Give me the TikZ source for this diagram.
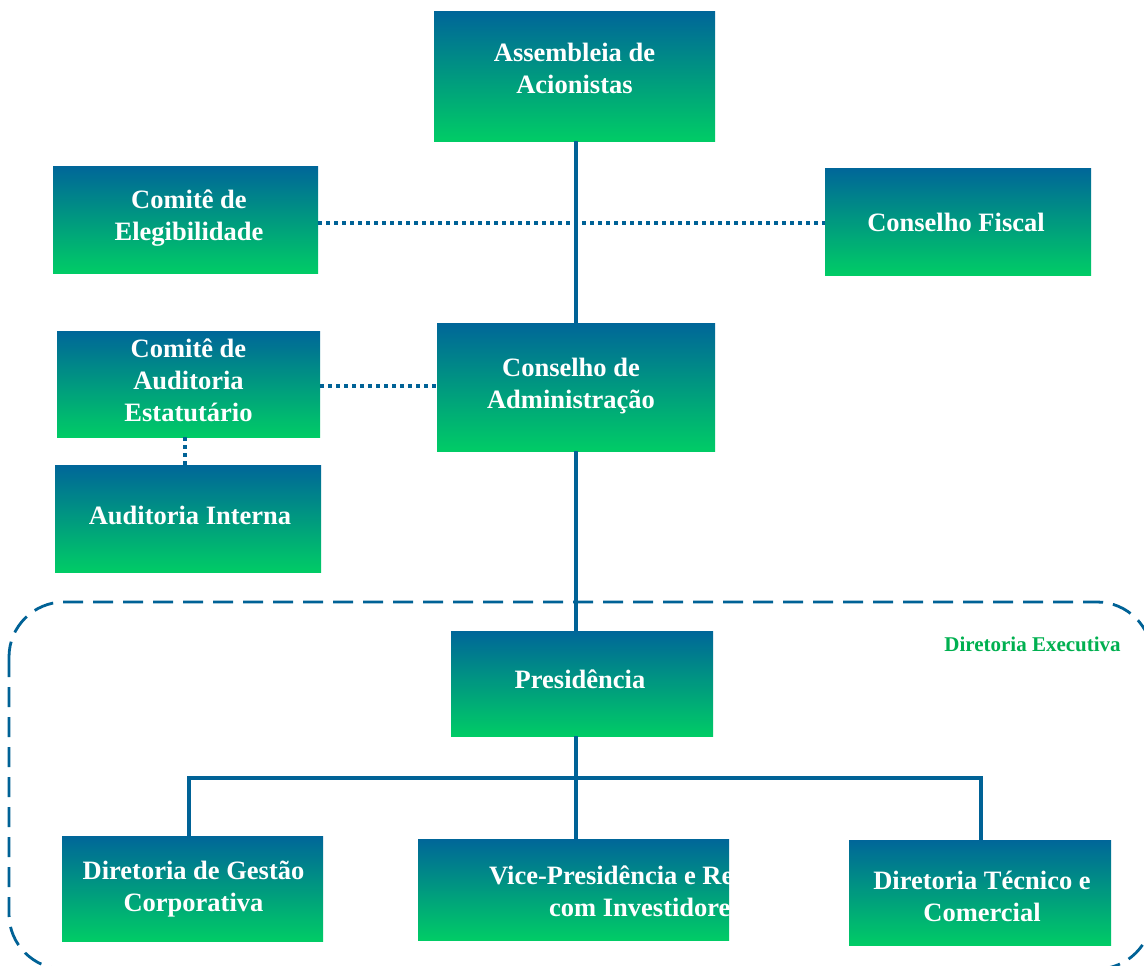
\documentclass[tikz,border=0pt]{standalone}
\usepackage{fontspec}
\setmainfont{Liberation Serif}
\definecolor{topc}{RGB}{0,102,153}
\definecolor{botc}{RGB}{0,204,102}
\definecolor{linec}{RGB}{0,98,150}
\definecolor{labelc}{RGB}{0,176,80}
\begin{document}
\begin{tikzpicture}[x=1pt,y=-1pt,
  box/.style={draw=none, top color=topc, bottom color=botc, inner sep=0pt},
  boxtext/.style={text=white, align=center, inner sep=0pt,
    font=\fontsize{26.5}{32}\selectfont\bfseries},
  solidline/.style={draw=linec, line width=3.5pt},
  dotline/.style={draw=linec, line width=4pt, dash pattern=on 4pt off 4pt},
  frame/.style={draw=linec, line width=2.8pt, dash pattern=on 20pt off 10pt, rounded corners=55pt}
]
\clip (0,0) rectangle (1144,966);
\fill[white] (0,0) rectangle (1144,966);

% dashed frame of the executive board
\draw[frame] (9,602) rectangle (1152,969);
\node[text=labelc, font=\fontsize{21}{24}\selectfont\bfseries, inner sep=0pt] (delabel) at (1032.5,644) {Diretoria Executiva};

% boxes
\node[box, minimum width=281pt, minimum height=129pt] (ass) at (574.5,76.5) {};
\node[box, minimum width=265pt, minimum height=107pt] (ce) at (185.5,219.5) {};
\node[box, minimum width=266pt, minimum height=107pt] (cf) at (958,221.5) {};
\node[box, minimum width=263pt, minimum height=106pt] (cae) at (188.5,384) {};
\node[box, minimum width=278pt, minimum height=128pt] (ca) at (576,387) {};
\node[box, minimum width=266pt, minimum height=107pt] (ai) at (188,518.5) {};
\node[box, minimum width=262pt, minimum height=105pt] (pres) at (582,683.5) {};
\node[box, minimum width=261pt, minimum height=105pt] (gc) at (192.5,888.5) {};
\node[box, minimum width=311pt, minimum height=101pt] (vp) at (573.5,889.5) {};
\node[box, minimum width=262pt, minimum height=105pt] (dt) at (980,892.5) {};

% connectors
\coordinate (bus) at (575,778);
\draw[solidline] (ass.south -| ca.south) -- (ca.north);
\draw[solidline] (ca.south) -- (ca.south |- pres.north);
\draw[solidline] (pres.south -| ca.south) -- (vp.north -| ca.south);
\draw[solidline] (gc.north -| 189,0) |- (bus) -| (dt.north -| 981,0);
\draw[dotline] (ce.east |- 0,222.5) -- (cf.west |- 0,222.5);
\draw[dotline] (cae.east |- 0,386) -- (ca.west |- 0,386);
\draw[dotline] (cae.south -| 185,0) -- (ai.north -| 185,0);

% texts
\node[boxtext] (ass-t) at (574.5,68.5) {Assembleia de\\Acionistas};
\node[boxtext] (ce-t) at (189,218.5) {Comitê de\\Elegibilidade};
\node[boxtext] (cf-t) at (956,222) {Conselho Fiscal};
\node[boxtext] (cae-t) at (188.5,380.5) {Comitê de\\Auditoria\\Estatutário};
\node[boxtext] (ca-t) at (571,386) {Conselho de\\Administração};
\node[boxtext] (ai-t) at (190,515.5) {Auditoria Interna};
\node[boxtext] (pres-t) at (580,679.5) {Presidência};
\node[boxtext] (gc-t) at (193.5,889.5) {Diretoria de Gestão\\Corporativa};
\node[boxtext] (dt-t) at (982,896.5) {Diretoria Técnico e\\Comercial};
\begin{scope}
  \clip (vp.south west) rectangle (vp.north east);
  \node[boxtext] (vp-t) at (645,891.5) {Vice-Presidência e Relações\\com Investidores};
\end{scope}
\end{tikzpicture}
\end{document}
